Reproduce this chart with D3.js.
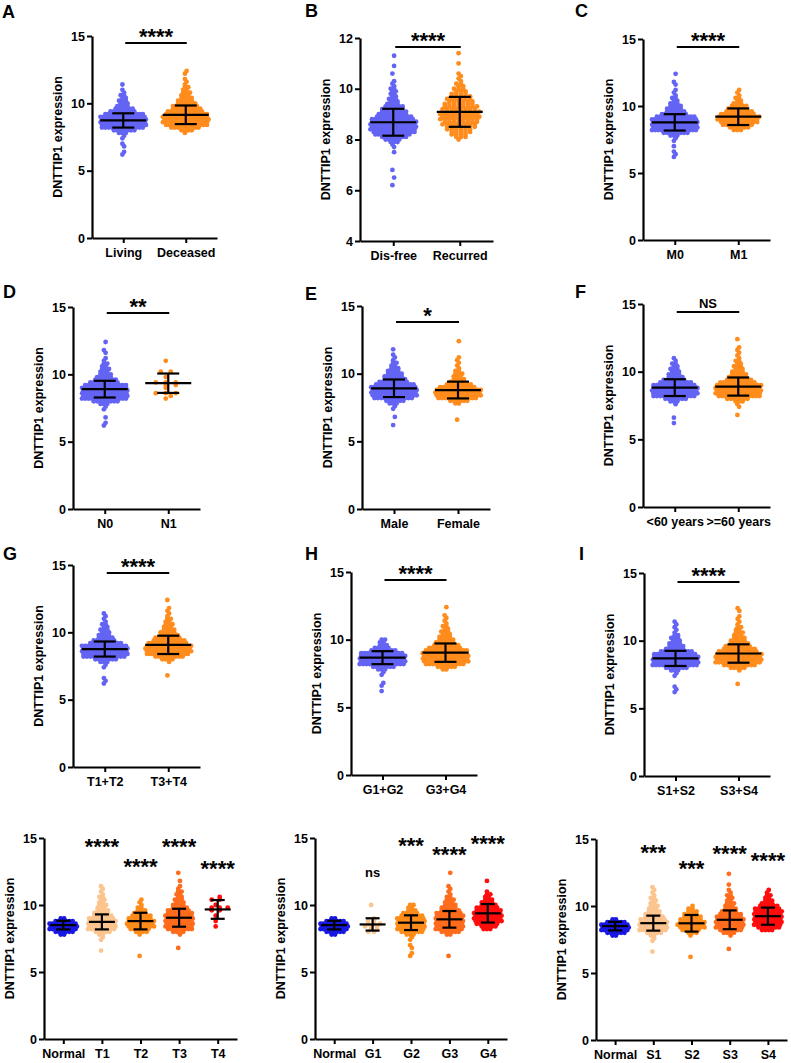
<!DOCTYPE html>
<html><head><meta charset="utf-8">
<script src="https://cdn.jsdelivr.net/npm/d3@7"></script>
<style>
body{margin:0;background:#fff;}
svg text{font-family:"Liberation Sans",Arial,sans-serif;font-weight:bold;fill:#000;}
</style></head><body>
<svg id="fig" width="791" height="1063"></svg>
<script>
// ---------------- DATA ----------------
// Each group: histogram counts of samples starting at "start" value, bin step 0.2 (panel B: 0.1)
const yLabel = "DNTTIP1 expression";
const ticks15 = [0, 5, 10, 15];
const ticksB = [4, 6, 8, 10, 12];

const catsA = ["Living", "Deceased"];
const startA = [6.2, 7.8];
const countsA = [
  [1,1,0,1,1,0,1,1,3,7,13,17,20,19,16,12,8,6,4,3,3,2,2,1,1,0,1],
  [1,4,9,13,15,15,14,13,11,9,8,6,5,4,3,3,2,2,1,1,1,0,1,1]
];
const meanA = [8.73, 9.15], sdA = [0.53, 0.69], sigA = "****";

const catsB = ["Dis-free", "Recurred"];
const startB = [6.2, 8.0];
const countsB = [
  [1,0,0,1,0,0,1,0,0,0,0,0,0,1,0,1,1,3,5,8,11,13,14,15,15,14,13,11,9,8,7,6,4,3,3,2,2,2,2,1,1,1,0,0,1,0,0,1,0,0,0,1],
  [1,3,4,5,6,7,8,8,9,9,9,9,8,8,7,6,6,5,4,3,3,2,2,1,1,1,1,0,0,0,1,0,0,0,1]
];
const meanB = [8.68, 9.09], sdB = [0.53, 0.59], sigB = "****";

const catsC = ["M0", "M1"];
const startC = [6.2, 8.2];
const countsC = [
  [1,1,1,0,1,0,1,1,3,8,15,19,21,19,16,12,8,6,5,4,3,2,2,1,1,1,0,1,1,0,0,1],
  [3,6,9,11,12,12,10,8,6,5,3,2,2,1,1,1]
];
const meanC = [8.78, 9.2], sdC = [0.61, 0.62], sigC = "****";

const catsD = ["N0", "N1"];
const startD = [6.2, 8.2];
const countsD = [
  [1,1,0,1,0,0,1,1,3,8,15,20,22,20,17,13,9,7,5,4,3,3,2,2,1,1,0,1,1,0,0,1],
  [1,1,3,0,1,2,3,0,1,0,2,0,0,0,1]
];
const meanD = [8.9, 9.34], sdD = [0.62, 0.72], sigD = "**";

const catsE = ["Male", "Female"];
const startE = [6.2, 6.6];
const countsE = [
  [1,0,0,1,0,0,1,1,3,6,12,16,18,17,15,12,9,7,6,5,4,3,2,2,1,1,1,0,1],
  [1,0,0,0,0,0,2,6,12,16,18,15,11,8,5,4,3,3,2,1,1,1,1,1,0,0,0,0,0,1]
];
const meanE = [8.92, 8.79], sdE = [0.65, 0.62], sigE = "*";

const catsF = ["<60 years", ">=60 years"];
const startF = [6.2, 6.8];
const countsF = [
  [1,0,1,0,0,0,0,1,3,7,13,17,18,16,13,10,7,5,4,3,3,2,2,1,1],
  [1,0,0,1,1,3,7,13,17,19,17,14,11,8,6,5,4,3,3,2,2,1,1,1,1,1,0,0,1]
];
const meanF = [8.82, 8.9], sdF = [0.62, 0.67], sigF = "NS";

const catsG = ["T1+T2", "T3+T4"];
const startG = [6.2, 6.8];
const countsG = [
  [1,1,1,0,0,0,1,1,3,7,13,17,19,17,14,10,7,5,4,3,3,2,2,1,1,1,1],
  [1,0,0,0,0,1,4,9,13,15,15,14,12,10,8,6,5,4,3,3,2,2,1,1,1,1,0,0,1]
];
const meanG = [8.76, 9.07], sdG = [0.56, 0.68], sigG = "****";

const catsH = ["G1+G2", "G3+G4"];
const startH = [6.2, 7.8];
const countsH = [
  [1,0,1,1,0,0,1,1,3,7,14,18,20,17,13,8,5,3,2,2],
  [2,6,12,16,18,17,15,13,10,8,6,5,4,3,3,2,2,1,1,1,1,0,0,1]
];
const meanH = [8.67, 9.04], sdH = [0.48, 0.68], sigH = "****";

const catsI = ["S1+S2", "S3+S4"];
const startI = [6.2, 6.8];
const countsI = [
  [1,1,1,0,0,0,1,1,3,7,14,18,19,17,13,10,6,5,4,3,3,2,1,1,1,1,1],
  [1,0,0,0,0,1,5,10,14,16,16,14,12,10,8,6,5,4,3,3,2,2,1,1,1,1,0,1,1]
];
const meanI = [8.69, 9.05], sdI = [0.56, 0.68], sigI = "****";

const catsT = ["Normal", "T1", "T2", "T3", "T4"];
const startT = [7.8, 6.6, 6.2, 6.8, 8.4];
const countsT = [
  [2,6,10,12,10,6,2],
  [1,0,0,0,1,1,2,5,9,11,12,10,8,6,5,4,3,3,2,2,2,1,1,1,1],
  [1,0,0,0,0,0,0,0,1,4,6,8,8,8,7,6,4,3,2,1,1,1],
  [1,0,0,0,0,1,4,8,11,12,12,11,10,8,7,5,4,3,3,2,2,2,1,1,0,1,0,0,1],
  [1,0,1,0,1,0,2,3,1,0,2,1]
];
const meanT = [8.5, 8.74, 8.8, 9.05, 9.67], sdT = [0.32, 0.56, 0.62, 0.67, 0.7];
const sigT = ["", "****", "****", "****", "****"];

const catsGr = ["Normal", "G1", "G2", "G3", "G4"];
const startGr = [7.8, 8.0, 6.2, 6.2, 8.2];
const countsGr = [
  [2,6,10,12,10,6,2],
  [2,2,3,3,2,1,0,0,0,0,1],
  [1,1,0,1,1,0,1,1,3,7,11,13,14,12,10,7,5,3,2,2],
  [1,0,0,0,0,0,0,0,2,6,10,13,14,13,12,10,8,6,5,4,3,3,2,1,1,1,1,0,0,0,0,1],
  [3,5,7,9,10,10,9,8,7,5,4,3,2,2,1,0,0,0,1]
];
const meanGr = [8.5, 8.55, 8.68, 8.93, 9.38], sdGr = [0.32, 0.46, 0.55, 0.62, 0.69];
const sigGr = ["", "ns", "***", "****", "****"];

const catsS = ["Normal", "S1", "S2", "S3", "S4"];
const startS = [7.8, 6.6, 6.2, 6.8, 8.2];
const countsS = [
  [2,6,10,12,10,6,2],
  [1,0,0,0,1,1,2,5,9,11,12,10,8,6,5,4,3,3,2,2,2,1,1,1,1],
  [1,0,0,0,0,0,0,0,1,3,5,7,8,7,6,5,4,3,2,1],
  [1,0,0,0,0,1,4,7,9,10,10,9,8,7,5,4,3,3,2,2,2,1,1,0,1,0,0,0,1],
  [4,7,9,11,12,12,11,9,8,6,4,3,2,2,1,1]
];
const meanS = [8.5, 8.72, 8.71, 8.97, 9.24], sdS = [0.32, 0.56, 0.62, 0.7, 0.64];
const sigS = ["", "***", "***", "****", "****"];

// ---------------- STYLE / LAYOUT ----------------
const twoColors = ["#6464f4", "#ff8c1c"];
const fiveColors = ["#1818e2", "#fcc48e", "#ff8c1a", "#ff6c1c", "#ff0c0c"];

const svg = d3.select("#fig");

function swarm(start, step, counts, spacing, maxHalf) {
  const pts = [];
  counts.forEach((n, i) => {
    if (!n) return;
    const v = +(start + i * step).toFixed(2);
    let s = spacing;
    if (n > 1 && (n - 1) * s > 2 * maxHalf) s = 2 * maxHalf / (n - 1);
    const shift = (i % 2 ? 0.25 : -0.25) * s;
    for (let k = 0; k < n; k++) pts.push({ v, dx: (k - (n - 1) / 2) * s + shift });
  });
  return pts;
}

function drawPanel(L, D) {
  const g = svg.append("g");
  const x = d3.scalePoint().domain(D.cats).range([L.x0, L.x1]).padding(0.5);
  const y = d3.scaleLinear().domain(D.domain).range([L.yBot, L.yTop]);

  D.cats.forEach((c, i) => {
    const pts = swarm(D.starts[i], D.step, D.counts[i], L.sp[i], L.maxHalf);
    g.append("g").selectAll("circle").data(pts).join("circle")
      .attr("cx", d => x(c) + d.dx).attr("cy", d => y(d.v))
      .attr("r", 2.4).attr("fill", D.colors[i]);
  });

  D.cats.forEach((c, i) => {
    const cx = x(c), m = D.means[i], s = D.sds[i];
    const eb = g.append("g").attr("stroke", "#000").attr("stroke-width", 2.2).attr("fill", "none");
    eb.append("line").attr("x1", cx - L.mh).attr("x2", cx + L.mh).attr("y1", y(m)).attr("y2", y(m));
    eb.append("line").attr("x1", cx).attr("x2", cx).attr("y1", y(m - s)).attr("y2", y(m + s));
    [m - s, m + s].forEach(v => eb.append("line").attr("x1", cx - L.ch).attr("x2", cx + L.ch).attr("y1", y(v)).attr("y2", y(v)));
  });

  const ya = g.append("g").attr("transform", `translate(${L.x0},0)`)
    .call(d3.axisLeft(y).tickValues(D.ticks).tickSize(5).tickSizeOuter(0).tickPadding(2));
  const xa = g.append("g").attr("transform", `translate(0,${L.yBot})`)
    .call(d3.axisBottom(x).tickSize(5).tickSizeOuter(0).tickPadding(5));
  [ya, xa].forEach(a => {
    a.attr("font-family", "Liberation Sans, Arial, sans-serif").attr("font-size", 12.5).attr("font-weight", "bold");
    a.select(".domain").attr("stroke-width", 2.2).attr("stroke", "#000");
    a.selectAll(".tick line").attr("stroke-width", 2).attr("stroke", "#000");
    a.selectAll(".tick text").attr("fill", "#000");
  });

  g.append("text").attr("transform", `translate(${L.x0 - 30.5},${(L.yTop + L.yBot) / 2}) rotate(-90)`)
    .attr("text-anchor", "middle").attr("font-size", 12.5).text(yLabel);

  if (L.letter) {
    g.append("text").attr("x", L.lx).attr("y", L.ly).attr("font-size", 18).text(L.letter);
  }

  if (L.barY !== undefined) {
    const xa0 = x(D.cats[0]) + 2, xa1 = x(D.cats[1]) + 1;
    g.append("line").attr("x1", xa0).attr("x2", xa1).attr("y1", L.barY).attr("y2", L.barY)
      .attr("stroke", "#000").attr("stroke-width", 2);
    const isStar = D.sig.indexOf("*") >= 0;
    g.append("text").attr("x", (xa0 + xa1) / 2).attr("text-anchor", "middle")
      .attr("y", isStar ? L.barY + 1 : L.barY - 4.3)
      .attr("font-size", isStar ? 22 : 13).text(D.sig);
  }
  if (L.sigY) {
    D.sig.forEach((t, i) => {
      if (!t) return;
      const isStar = t.indexOf("*") >= 0;
      g.append("text").attr("x", x(D.cats[i])).attr("text-anchor", "middle")
        .attr("y", isStar ? L.sigY[i] + 11 : L.sigY[i] + 3.5)
        .attr("font-size", isStar ? 22 : 13).text(t);
    });
  }
}

const twoPanels = [
  [{letter:"A", lx:2, ly:18, x0:92, x1:217, yTop:36, yBot:238, barY:43, sp:[3.4,3.4]},
   {cats:catsA, starts:startA, counts:countsA, means:meanA, sds:sdA, sig:sigA, domain:[0,15], ticks:ticks15, step:0.2}],
  [{letter:"B", lx:305, ly:17, x0:360, x1:493, yTop:38, yBot:241, barY:47, sp:[3.4,4.6]},
   {cats:catsB, starts:startB, counts:countsB, means:meanB, sds:sdB, sig:sigB, domain:[4,12], ticks:ticksB, step:0.1}],
  [{letter:"C", lx:575, ly:17, x0:643, x1:770, yTop:39, yBot:240, barY:47, sp:[3.4,3.6]},
   {cats:catsC, starts:startC, counts:countsC, means:meanC, sds:sdC, sig:sigC, domain:[0,15], ticks:ticks15, step:0.2}],
  [{letter:"D", lx:3, ly:298, x0:73, x1:200, yTop:307, yBot:509, barY:313, sp:[3.4,10]},
   {cats:catsD, starts:startD, counts:countsD, means:meanD, sds:sdD, sig:sigD, domain:[0,15], ticks:ticks15, step:0.2}],
  [{letter:"E", lx:305, ly:300, x0:362, x1:490, yTop:306, yBot:509, barY:322, sp:[3.4,3.4]},
   {cats:catsE, starts:startE, counts:countsE, means:meanE, sds:sdE, sig:sigE, domain:[0,15], ticks:ticks15, step:0.2}],
  [{letter:"F", lx:575, ly:298, x0:643, x1:770, yTop:304, yBot:507, barY:312, sp:[3.4,3.4]},
   {cats:catsF, starts:startF, counts:countsF, means:meanF, sds:sdF, sig:sigF, domain:[0,15], ticks:ticks15, step:0.2}],
  [{letter:"G", lx:3, ly:560, x0:73, x1:200, yTop:565, yBot:767, barY:573, sp:[3.4,3.4]},
   {cats:catsG, starts:startG, counts:countsG, means:meanG, sds:sdG, sig:sigG, domain:[0,15], ticks:ticks15, step:0.2}],
  [{letter:"H", lx:305, ly:560, x0:351, x1:477, yTop:572, yBot:775, barY:580, sp:[3.4,3.4]},
   {cats:catsH, starts:startH, counts:countsH, means:meanH, sds:sdH, sig:sigH, domain:[0,15], ticks:ticks15, step:0.2}],
  [{letter:"I", lx:579, ly:560, x0:644, x1:770, yTop:573, yBot:776, barY:582, sp:[3.4,3.4]},
   {cats:catsI, starts:startI, counts:countsI, means:meanI, sds:sdI, sig:sigI, domain:[0,15], ticks:ticks15, step:0.2}]
];
twoPanels.forEach(([L, D]) => {
  L.maxHalf = 22; L.mh = 23; L.ch = 11;
  D.colors = twoColors;
  drawPanel(L, D);
});

const fivePanels = [
  [{x0:44, x1:237, yTop:838, yBot:1039, sp:[3.4,3.4,3.6,3.4,8], sigY:[0,843,863,843,865]},
   {cats:catsT, starts:startT, counts:countsT, means:meanT, sds:sdT, sig:sigT}],
  [{x0:315, x1:507, yTop:838, yBot:1039, sp:[3.4,6,3.4,3.4,3.4], sigY:[0,873,842,851,839.5]},
   {cats:catsGr, starts:startGr, counts:countsGr, means:meanGr, sds:sdGr, sig:sigGr}],
  [{x0:596, x1:787, yTop:839, yBot:1040, sp:[3.4,3.4,4,3.4,3.4], sigY:[0,848.5,865,849.5,857]},
   {cats:catsS, starts:startS, counts:countsS, means:meanS, sds:sdS, sig:sigS}]
];
fivePanels.forEach(([L, D]) => {
  L.maxHalf = 13; L.mh = 13; L.ch = 7;
  D.colors = fiveColors; D.domain = [0, 15]; D.ticks = ticks15; D.step = 0.2;
  drawPanel(L, D);
});
</script>
</body></html>
